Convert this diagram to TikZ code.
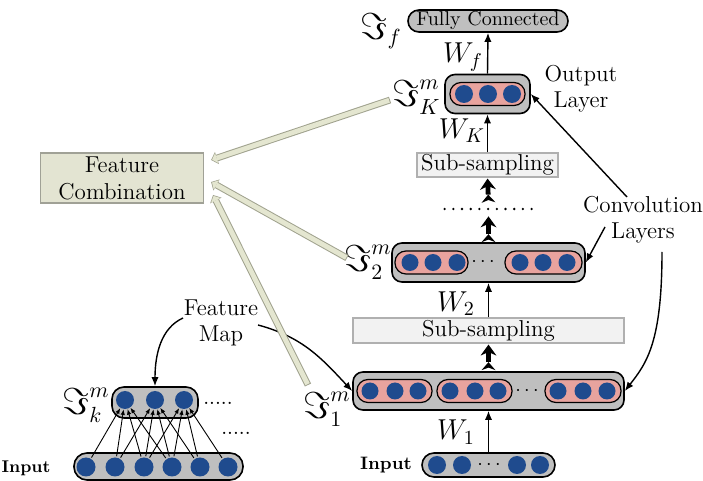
\documentclass[tikz,border=0pt]{standalone}
\usepackage{amssymb}
\usepackage{graphicx}
\usetikzlibrary{arrows.meta}
\definecolor{boxgray}{HTML}{BFBFBF}
\definecolor{pinkfill}{HTML}{E8A39E}
\definecolor{neuron}{HTML}{1F4B8E}
\definecolor{subfill}{HTML}{F2F2F2}
\definecolor{subedge}{HTML}{B0B0B0}
\definecolor{fcfill}{HTML}{E3E4D2}
\definecolor{fcedge}{HTML}{A0A196}
\definecolor{hfill}{HTML}{E4E6D0}
\definecolor{hedge}{HTML}{A0A28E}
\newcommand{\BigIm}{\scalebox{1.3}{$\Im$}}
\begin{document}
\begin{tikzpicture}[x=0.5pt,y=-0.5pt,
 txt/.style={font=\fontsize{11.5}{13}\selectfont, align=center, inner sep=0pt},
 boldtxt/.style={font=\fontsize{9}{10}\selectfont\bfseries, inner sep=0pt},
 mlbl/.style={font=\fontsize{15}{16}\selectfont, inner sep=0pt},
 wlbl/.style={font=\fontsize{14}{15}\selectfont, inner sep=0pt},
 layer/.style={draw=black, line width=0.8pt, fill=boxgray, rounded corners=5pt, inner sep=0pt},
 band/.style={draw=black, line width=0.6pt, fill=pinkfill, rounded corners=5.5pt, minimum height=11.5pt, inner sep=0pt},
 nrn/.style={circle, fill=neuron, minimum size=9pt, inner sep=0pt},
 subbox/.style={draw=subedge, line width=0.6pt, fill=subfill, inner sep=0pt, font=\fontsize{11.5}{13}\selectfont},
 combbox/.style={draw=fcedge, line width=0.6pt, fill=fcfill, inner sep=0pt, align=center, font=\fontsize{11.5}{13.5}\selectfont},
 thinarr/.style={line width=0.7pt, -{Latex[length=4.5pt,width=3.6pt]}},
 netarr/.style={line width=0.45pt, -{Latex[length=2.8pt,width=2.2pt]}, shorten <=0.5pt},
 fat/.style={line width=2.4pt, {Stealth[reversed,length=4pt,width=7pt,line width=0pt]}-{Stealth[length=5.5pt,width=8pt,line width=0pt]}},
 hollow/.style={line width=2.4pt, draw=hfill, shorten <=0.45pt, shorten >=0.55pt,
   -{Triangle[length=2.4pt,width=5.2pt,line width=0pt]},
   preaction={draw=hedge, line width=3.4pt, shorten <=0pt, shorten >=0pt,
   -{Triangle[length=3.1pt,width=6.4pt,line width=0pt]}}},
 dotrow/.style={line width=1.3pt, line cap=round, dash pattern=on 0pt off 4.35pt}
]
\useasboundingbox (0,0) rectangle (703,481);

% ---------- right column ----------
\node[layer, rounded corners=5.5pt, minimum width=80pt, minimum height=11pt, font=\fontsize{10}{12}\selectfont] (fc) at (488,21) {Fully Connected};
\node[mlbl, anchor=east] (lf) at (402,31) {$\BigIm_{f}$};

% layer K
\node[layer, minimum width=42.5pt, minimum height=19.5pt] (lK) at (487.5,94) {};
\node[band, minimum width=37.5pt] (bK) at (487.5,94) {};
\foreach \x [count=\n] in {464,488,512} \node[nrn] (kK\n) at (\x,94) {};
\node[mlbl, anchor=east] (lblK) at (441,97) {$\BigIm^{m}_{K}$};
\node[txt] (outlbl) at (581,89) {Output\\Layer};

\node[subbox, minimum width=70.5pt, minimum height=12pt] (sub1) at (487.5,165) {Sub-sampling};

\node[minimum width=43.5pt, minimum height=6pt, inner sep=0pt] (dotl) at (488.5,209) {};
\draw[dotrow] (dotl.west) -- (dotl.east);

% layer 2
\node[layer, minimum width=96.5pt, minimum height=19.5pt] (l2) at (488.5,262.5) {};
\node[band, minimum width=36.5pt] (b2a) at (431.5,262.5) {};
\node[band, minimum width=38.5pt] (b2b) at (543.5,262.5) {};
\foreach \x [count=\n] in {410,433,457,520,543,567} \node[nrn, minimum size=8.5pt] (k2\n) at (\x,262.5) {};
\node[txt, font=\fontsize{10}{12}\selectfont] (d2) at (483,262) {$\cdots$};
\node[mlbl, anchor=east] (lbl2) at (392,262) {$\BigIm^{m}_{2}$};

\node[subbox, minimum width=135.5pt, minimum height=12.5pt] (sub2) at (488.5,330.5) {Sub-sampling};

% layer 1
\node[layer, minimum width=135.5pt, minimum height=19pt] (l1) at (488.5,391) {};
\node[band, minimum width=37.5pt] (b1a) at (394.5,391) {};
\node[band, minimum width=37.5pt] (b1b) at (474.5,391) {};
\node[band, minimum width=38pt] (b1c) at (583,391) {};
\foreach \x [count=\n] in {370,395,418,450,475,498,558,583,607} \node[nrn, minimum size=8.5pt] (k1\n) at (\x,391) {};
\node[txt, font=\fontsize{10}{12}\selectfont] (d1) at (527,391) {$\cdots$};
\node[mlbl, anchor=east] (lbl1) at (351,409) {$\BigIm^{m}_{1}$};

% right input
\node[layer, rounded corners=6pt, minimum width=66.5pt, minimum height=12pt] (inR) at (488.5,465) {};
\foreach \x [count=\n] in {437,462,517,540} \node[nrn] (iR\n) at (\x,465) {};
\node[txt, font=\fontsize{10}{12}\selectfont] (dR) at (489,465) {$\cdots$};
\node[boldtxt] (inRlbl) at (386,465) {Input};

% W labels
\node[wlbl] (wf) at (463,57) {$W_f$};
\node[wlbl] (wK) at (462,131) {$W_K$};
\node[wlbl] (w2) at (456,304) {$W_2$};
\node[wlbl] (w1) at (456,432) {$W_1$};

\node[txt] (convlbl) at (643,220) {Convolution\\Layers};

% ---------- left ----------
\node[combbox, minimum width=81.5pt, minimum height=25pt] (fcomb) at (122,178) {Feature\\Combination};
\node[txt] (fmlbl) at (221,323) {Feature\\Map};

\node[layer, rounded corners=6pt, minimum width=43pt, minimum height=15.5pt] (lk) at (155,402.5) {};
\foreach \x [count=\n] in {125,155,184} \node[nrn] (kn\n) at (\x,400) {};
\node[mlbl, anchor=east] (lblk) at (110,405) {$\BigIm^{m}_{k}$};
\node[txt, font=\fontsize{10.5}{12}\selectfont] (dl1) at (218,403) {.....};
\node[txt, font=\fontsize{10.5}{12}\selectfont] (dl2) at (236,433) {.....};

\node[layer, rounded corners=6.5pt, minimum width=84.5pt, minimum height=13.5pt] (inL) at (158.5,466.5) {};
\foreach \x [count=\n] in {86,115,144,172,200,228} \node[nrn, minimum size=9.5pt] (in\n) at (\x,467) {};
\node[boldtxt, font=\fontsize{8.5}{10}\selectfont\bfseries] (inLlbl) at (26,468) {Input};

\foreach \i/\j in {1/1,2/1,3/1,4/1,2/2,3/2,4/2,5/2,3/3,4/3,5/3,6/3}
  \draw[netarr] (in\i) -- (kn\j);

% ---------- connectors ----------
\draw[thinarr] (lK.north) -- (fc.south);
\draw[thinarr] (sub1.north) -- (lK.south);
\draw[thinarr] (sub2.north) -- (l2.south);
\draw[thinarr] (inR.north) -- (l1.south);
\draw[fat, shorten >=0.5pt] (l2.north) -- (dotl.south);
\draw[fat, shorten >=0.5pt] (dotl.north) -- (sub1.south);
\draw[fat, shorten >=0.5pt, shorten <=0.5pt] (l1.north) -- (sub2.south);

\coordinate (cK) at (627,197);
\coordinate (c2) at (605,227);
\coordinate (c1) at (662,252);
\draw[thinarr] (cK) -- (lK.east);
\draw[thinarr] (c2) -- (l2.east);
\draw[thinarr] (c1) .. controls +(0,90) and +(22,-28) .. (l1.east);

\coordinate (fm1) at (183,318);
\coordinate (fm2) at (258,325);
\draw[thinarr] (fm1) .. controls +(-22,10) and +(0,-32) .. (lk.north);
\draw[thinarr] (fm2) .. controls +(45,12) and +(-30,-32) .. (l1.west);

\coordinate (hK) at (390,100);
\coordinate (h2) at (347,258);
\coordinate (h1) at (308,385);
\draw[hollow] (hK) -- ([shift={(7,-18)}]fcomb.east);
\draw[hollow] (h2) -- ([shift={(7,4)}]fcomb.east);
\draw[hollow] (h1) -- ([shift={(9,17)}]fcomb.east);
\end{tikzpicture}
\end{document}
